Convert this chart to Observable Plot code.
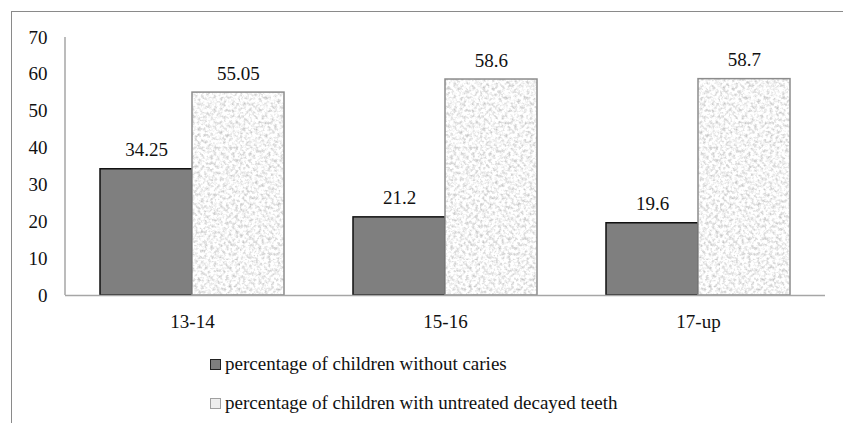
<!DOCTYPE html>
<html>
<head>
<meta charset="utf-8">
<script src="https://cdn.jsdelivr.net/npm/d3@7"></script>
<script src="https://cdn.jsdelivr.net/npm/@observablehq/plot@0.6"></script>
<style>
  html, body { margin: 0; padding: 0; background: #fff; }
  #page { position: relative; width: 843px; height: 423px; overflow: hidden; font-family: "Liberation Serif", "Times New Roman", Times, "Nimbus Roman", FreeSerif, "Noto Serif", Tinos, "DejaVu Serif", serif; color: #111; }
  #frame { position: absolute; left: 11px; top: 11px; width: 900px; height: 500px; border-top: 1.5px solid #8a8a8a; border-left: 1.5px solid #8a8a8a; box-sizing: border-box; }
  #chart { position: absolute; left: 0; top: 0; }
  .legend-row { position: absolute; left: 210px; height: 20px; display: flex; align-items: center; font-size: 19px; white-space: nowrap; }
  .swatch { width: 9px; height: 9px; margin-right: 4px; box-sizing: content-box; }
</style>
</head>
<body>
<div id="page">
  <div id="frame"></div>
  <div id="chart"></div>
  <div id="legend"></div>
</div>
<script>
// Age groups and the two series plotted for each of them
const groups = ["13-14", "15-16", "17-up"];
const withoutCaries = [34.25, 21.2, 19.6];
const untreatedDecay = [55.05, 58.6, 58.7];
const seriesNames = [
  "percentage of children without caries",
  "percentage of children with untreated decayed teeth"
];
const yTicks = [0, 10, 20, 30, 40, 50, 60, 70];

const darkRows = groups.map((g, i) => ({group: g, value: withoutCaries[i]}));
const lightRows = groups.map((g, i) => ({group: g, value: untreatedDecay[i]}));

// Layout
const W = 843, H = 340;
const mL = 65, mR = 18, mT = 37, mB = 45;
const padIn = 0.2737, padOut = padIn / 2;
const step = (W - mL - mR) / (groups.length - padIn + 2 * padOut);
const half = step * (1 - padIn) / 2;

const font = "'Liberation Serif', 'Times New Roman', Times, 'Nimbus Roman', FreeSerif, 'Noto Serif', Tinos, 'DejaVu Serif', serif";
const fs = 19;
const ns = "http://www.w3.org/2000/svg";

// Speckled fill used for the light bars
const defs = () => {
  const d = document.createElementNS(ns, "defs");
  d.innerHTML = `
    <filter id="grain" x="0" y="0" width="100%" height="100%" color-interpolation-filters="sRGB">
      <feTurbulence type="fractalNoise" baseFrequency="0.32" numOctaves="3" seed="7"/>
      <feColorMatrix type="matrix" values="0.5 0 0 0 0.71  0.5 0 0 0 0.71  0.5 0 0 0 0.71  0 0 0 0 1"/>
    </filter>
    <pattern id="granite" patternUnits="userSpaceOnUse" width="120" height="260">
      <rect width="120" height="260" fill="#eee" filter="url(#grain)"/>
    </pattern>`;
  return d;
};

// Vertical value axis line along the left edge of the plot area
const axisLine = (index, scales, values, dims) => {
  const l = document.createElementNS(ns, "line");
  l.setAttribute("x1", dims.marginLeft);
  l.setAttribute("x2", dims.marginLeft);
  l.setAttribute("y1", scales.y(0));
  l.setAttribute("y2", scales.y(70));
  l.setAttribute("stroke", "#a6a6a6");
  l.setAttribute("stroke-width", 1.5);
  return l;
};

const chart = Plot.plot({
  width: W,
  height: H,
  marginLeft: mL,
  marginRight: mR,
  marginTop: mT,
  marginBottom: mB,
  style: {fontFamily: font, fontSize: fs + "px", color: "#111", background: "transparent"},
  x: {domain: groups, paddingInner: padIn, paddingOuter: padOut, label: null},
  y: {domain: [0, 70], label: null},
  marks: [
    defs,
    Plot.barY(darkRows, {x: "group", y: "value", insetRight: half, fill: "#7f7f7f", stroke: "#111", strokeWidth: 1.5}),
    Plot.barY(lightRows, {x: "group", y: "value", insetLeft: half, fill: "url(#granite)"}),
    Plot.barY(lightRows, {x: "group", y: "value", insetLeft: half, fill: "none", stroke: "#8c8c8c", strokeWidth: 1.5}),
    Plot.ruleY([0], {stroke: "#a6a6a6", strokeWidth: 1.5}),
    axisLine,
    Plot.axisY({ticks: yTicks, tickSize: 0, tickPadding: 18, fill: "#111", fontSize: fs, fontFamily: font}),
    Plot.axisX({tickSize: 0, tickPadding: 19, fill: "#111", fontSize: fs, fontFamily: font}),
    Plot.text(darkRows, {x: "group", y: "value", text: d => String(d.value), dx: -half / 2, dy: -19, fill: "#111", fontSize: fs, fontFamily: font}),
    Plot.text(lightRows, {x: "group", y: "value", text: d => String(d.value), dx: half / 2, dy: -19, fill: "#111", fontSize: fs, fontFamily: font})
  ]
});
document.getElementById("chart").appendChild(chart);

// Legend below the plot
const legend = document.getElementById("legend");
const swatches = [
  {bg: "#7f7f7f", border: "1.5px solid #222"},
  {bg: "#eeeeee", border: "1.5px solid #a0a0a0"}
];
seriesNames.forEach((name, i) => {
  const row = document.createElement("div");
  row.className = "legend-row";
  row.style.top = (354 + i * 39) + "px";
  const sw = document.createElement("span");
  sw.className = "swatch";
  sw.style.background = swatches[i].bg;
  sw.style.border = swatches[i].border;
  const label = document.createElement("span");
  label.textContent = name;
  row.appendChild(sw);
  row.appendChild(label);
  legend.appendChild(row);
});
</script>
</body>
</html>
